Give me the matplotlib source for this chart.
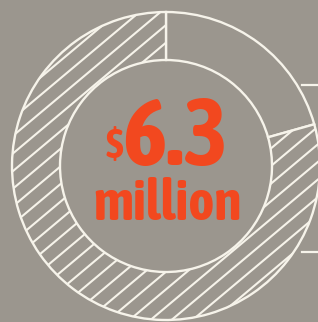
import numpy as np
import matplotlib.pyplot as plt

# two shares of the total (in $ million), clockwise from 12 o'clock
labels = ["share A", "share B"]
values = [1.3, 5.0]
hatched = [False, True]
total_text = "6.3"

bg = "#9b968e"
line = "#f6f3ea"
orange = "#f2481f"

fig = plt.figure(figsize=(3.18, 3.22), dpi=100)
fig.patch.set_facecolor(bg)
ax = fig.add_axes([0, 0, 1, 1])
ax.set_facecolor(bg)

# bracket behind the ring
ax.plot([136, 160, 160, 136], [81, 81, -86, -86], color=line, lw=1.6, zorder=1,
        solid_joinstyle="miter")

wedges, _ = ax.pie(values, radius=154, startangle=90, counterclock=False,
                   colors=[bg, bg],
                   wedgeprops=dict(width=48, edgecolor=line, linewidth=1.7))
for w in wedges:
    w.set_zorder(2)

# diagonal hatching, clipped to the hatched wedges
ang = np.deg2rad(40)
d = np.array([np.cos(ang), np.sin(ang)])
n = np.array([-np.sin(ang), np.cos(ang)])
for w, h in zip(wedges, hatched):
    if not h:
        continue
    for k in range(-18, 19):
        p = k * 13.5 * n
        a, b = p - 260 * d, p + 260 * d
        ln, = ax.plot([a[0], b[0]], [a[1], b[1]], color=line, lw=1.5, zorder=2.5)
        ln.set_clip_path(w)

ax.set_xlim(-166, 152)
ax.set_ylim(-156, 166)
ax.set_aspect("equal")
ax.axis("off")

fam = ["Asap Condensed", "DejaVu Sans"]
ax.text(9, 1, total_text, ha="center", va="baseline", fontsize=68,
        fontweight="bold", color=orange, family=fam, zorder=3)
ax.text(-52, 8, "$", ha="center", va="baseline", fontsize=30,
        fontweight="bold", color=orange, family=fam, zorder=3)
ax.text(1.5, -54, "million", ha="center", va="baseline", fontsize=40,
        fontweight="bold", color=orange, family=fam, zorder=3)

fig.savefig("out.png", dpi=100, facecolor=bg)
